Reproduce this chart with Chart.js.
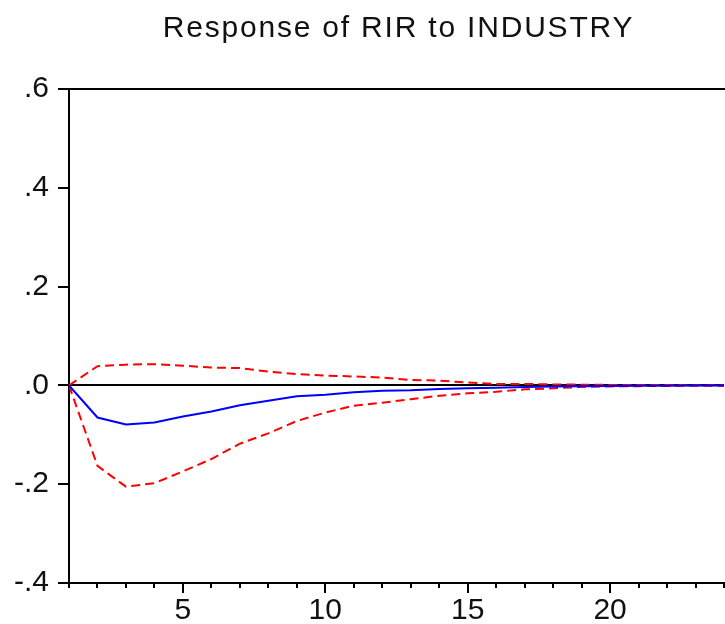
<!DOCTYPE html>
<html>
<head>
<meta charset="utf-8">
<script src="https://cdn.jsdelivr.net/npm/chart.js@4"></script>
<style>
  html, body { margin: 0; padding: 0; background: #fff; overflow: hidden; }
  #wrap { width: 725px; height: 624px; }
</style>
</head>
<body>
<div id="wrap"><canvas id="c" width="725" height="624"></canvas></div>
<script>
// ---- data ----
const periods = [1,2,3,4,5,6,7,8,9,10,11,12,13,14,15,16,17,18,19,20,21,22,23,24];
const response = [0, -0.065, -0.079, -0.075, -0.063, -0.053, -0.040, -0.031, -0.022, -0.019, -0.014, -0.011, -0.010, -0.0075, -0.006, -0.005, -0.003, -0.002, -0.0015, -0.001, -0.0008, -0.0006, -0.0004, -0.0003];
const upperBand = [0, 0.039, 0.042, 0.043, 0.040, 0.036, 0.035, 0.028, 0.023, 0.020, 0.018, 0.016, 0.011, 0.0095, 0.006, 0.003, 0.003, 0.002, 0.0015, 0.001, 0.0008, 0.0006, 0.0005, 0.0004];
const lowerBand = [0, -0.163, -0.205, -0.198, -0.174, -0.149, -0.118, -0.097, -0.072, -0.055, -0.041, -0.035, -0.028, -0.021, -0.016, -0.013, -0.008, -0.006, -0.003, -0.002, -0.0015, -0.001, -0.0008, -0.0006];
const yTickValues = [-0.4, -0.2, 0, 0.2, 0.4, 0.6];
const yTickLabels = ['-.4', '-.2', '.0', '.2', '.4', '.6'];
const xLabelValues = [5, 10, 15, 20];
const titleText = 'Response of RIR to INDUSTRY';

const FONT = "'Liberation Sans', Arial, sans-serif";

const toXY = arr => periods.map((p, i) => ({x: p, y: arr[i]}));

// title: letter-spaced and centred over the plot area instead of the whole canvas
const titleSpacing = {
  id: 'titleSpacing',
  beforeDraw(chart) {
    const tb = chart.titleBlock;
    if (tb && !tb.__spaced) {
      const orig = tb.draw.bind(tb);
      tb.draw = function(area) {
        const ctx = chart.ctx;
        const a = chart.chartArea;
        const shift = (a.left + a.right) / 2 - chart.width / 2 + 2;
        ctx.save();
        ctx.translate(shift, 0);
        ctx.letterSpacing = '1.8px';
        orig(area);
        ctx.restore();
      };
      tb.__spaced = true;
    }
  }
};

const frame = {
  id: 'frame',
  afterDatasetsDraw(chart) {
    const {ctx, chartArea: a, scales: {x}} = chart;
    ctx.save();
    ctx.strokeStyle = '#000';
    ctx.lineWidth = 2;
    // top border
    ctx.beginPath();
    ctx.moveTo(a.left - 1, a.top);
    ctx.lineTo(a.right + 2, a.top);
    ctx.stroke();
    // x ticks (major every 5, minor every period)
    periods.forEach(p => {
      const px = Math.round(x.getPixelForValue(p));
      const len = (p % 5 === 0) ? 10 : 5;
      ctx.beginPath();
      ctx.moveTo(px, a.bottom);
      ctx.lineTo(px, a.bottom + len);
      ctx.stroke();
    });
    ctx.restore();
  }
};

new Chart(document.getElementById('c'), {
  type: 'line',
  data: {
    datasets: [
      {
        label: 'response',
        data: toXY(response),
        borderColor: '#0000ff',
        borderWidth: 2,
        pointRadius: 0,
        tension: 0,
        fill: false
      },
      {
        label: 'upper',
        data: toXY(upperBand),
        borderColor: '#ff0000',
        borderWidth: 2,
        borderDash: [9, 5],
        pointRadius: 0,
        tension: 0,
        fill: false
      },
      {
        label: 'lower',
        data: toXY(lowerBand),
        borderColor: '#ff0000',
        borderWidth: 2,
        borderDash: [9, 5],
        pointRadius: 0,
        tension: 0,
        fill: false
      }
    ]
  },
  options: {
    responsive: false,
    animation: false,
    layout: { padding: 0 },
    plugins: {
      legend: { display: false },
      tooltip: { enabled: false },
      title: {
        display: true,
        text: titleText,
        color: '#111',
        font: { family: FONT, size: 30, weight: 'normal' },
        padding: { top: 11, bottom: 42 }
      }
    },
    scales: {
      x: {
        type: 'linear',
        min: 1,
        max: 24,
        afterBuildTicks: s => { s.ticks = periods.map(v => ({value: v})); },
        afterFit: s => { s.height = 41; },
        ticks: {
          autoSkip: false,
          maxRotation: 0,
          padding: 1,
          color: '#111',
          font: { family: FONT, size: 30 },
          callback: v => xLabelValues.includes(v) ? String(v) : ''
        },
        grid: {
          display: true,
          drawOnChartArea: false,
          drawTicks: true,
          tickLength: 9,
          tickColor: 'transparent'
        },
        border: { display: true, color: '#000', width: 2 }
      },
      y: {
        min: -0.4,
        max: 0.6,
        afterBuildTicks: s => { s.ticks = yTickValues.map(v => ({value: v})); },
        afterFit: s => { s.width = 69; },
        ticks: {
          padding: 9,
          color: '#111',
          font: { family: FONT, size: 30 },
          callback: (v) => {
            const i = yTickValues.findIndex(t => Math.abs(t - v) < 1e-9);
            return i >= 0 ? yTickLabels[i] : '';
          }
        },
        grid: {
          display: true,
          drawOnChartArea: true,
          drawTicks: true,
          tickLength: 11,
          lineWidth: 2,
          tickWidth: 2,
          tickColor: '#000',
          color: ctx => (ctx.tick && Math.abs(ctx.tick.value) < 1e-9) ? '#000' : 'transparent'
        },
        border: { display: true, color: '#000', width: 2 }
      }
    }
  },
  plugins: [titleSpacing, frame]
});
</script>
</body>
</html>
